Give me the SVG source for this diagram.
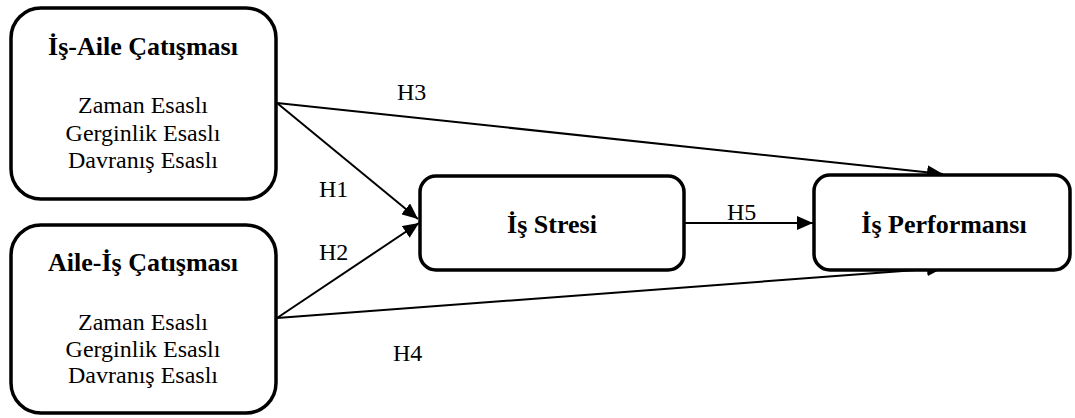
<svg xmlns="http://www.w3.org/2000/svg" width="1075" height="418" viewBox="0 0 1075 418">
<defs>
<marker id="ah" viewBox="0 0 16 14" refX="16" refY="7" markerWidth="16" markerHeight="14" markerUnits="userSpaceOnUse" orient="auto">
<path d="M0,0 L16,7 L0,14 Z" fill="#000"/>
</marker>
<style>
.box{fill:#fff;stroke:#000;stroke-width:3.5}
.t{font-family:"Liberation Serif","Times New Roman",serif;fill:#000;text-anchor:middle}
.b{font-weight:bold;font-size:26px}
.r{font-size:24px}
.c{stroke:#000;stroke-width:2;fill:none;marker-end:url(#ah)}
.l{font-family:"Liberation Serif","Times New Roman",serif;font-size:24px;fill:#000}
</style>
</defs>
<g id="connectors">
<line class="c" x1="277" y1="103" x2="943" y2="174"/>
<line class="c" x1="277" y1="103" x2="418" y2="219"/>
<line class="c" x1="277" y1="318" x2="419" y2="223"/>
<line class="c" x1="277" y1="318" x2="943" y2="268"/>
<line class="c" x1="684" y1="223" x2="813" y2="223"/>
<text class="l" x="397" y="100">H3</text>
<text class="l" x="319" y="197">H1</text>
<text class="l" x="319" y="260">H2</text>
<text class="l" x="393" y="361">H4</text>
<text class="l" x="727" y="220">H5</text>
</g>
<g id="node-is-aile">
<rect class="box" x="11" y="8" width="265" height="191" rx="30"/>
<text class="t b" x="143" y="55">İş-Aile Çatışması</text>
<text class="t r" x="143" y="113">Zaman Esaslı</text>
<text class="t r" x="143" y="141">Gerginlik Esaslı</text>
<text class="t r" x="143" y="168">Davranış Esaslı</text>
</g>
<g id="node-aile-is">
<rect class="box" x="11" y="225" width="265" height="188" rx="30"/>
<text class="t b" x="143" y="271">Aile-İş Çatışması</text>
<text class="t r" x="143" y="330">Zaman Esaslı</text>
<text class="t r" x="143" y="357">Gerginlik Esaslı</text>
<text class="t r" x="143" y="383">Davranış Esaslı</text>
</g>
<g id="node-is-stresi">
<rect class="box" x="420" y="176" width="264" height="94" rx="16"/>
<text class="t b" x="552" y="233">İş Stresi</text>
</g>
<g id="node-is-performansi">
<rect class="box" x="814" y="175" width="256" height="95" rx="16"/>
<text class="t b" x="944" y="233">İş Performansı</text>
</g>
</svg>
